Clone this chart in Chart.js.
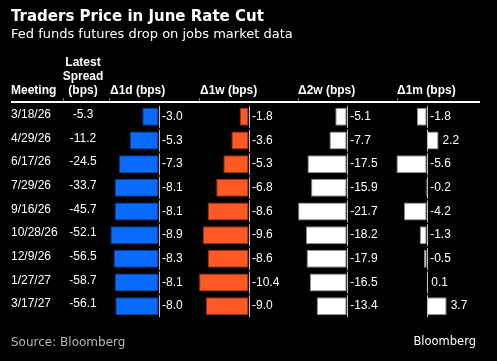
<!DOCTYPE html>
<html>
<head>
<meta charset="utf-8">
<script src="https://cdn.jsdelivr.net/npm/chart.js@4/dist/chart.umd.min.js"></script>
<style>
  html, body { margin: 0; padding: 0; background: #000; }
  #wrap { width: 497px; height: 361px; position: relative; }
</style>
</head>
<body>
<div id="wrap"><canvas id="myChart"></canvas></div>
<script>
const title = "Traders Price in June Rate Cut";
const subtitle = "Fed funds futures drop on jobs market data";
const source = "Source: Bloomberg";
const meetings = ["3/18/26", "4/29/26", "6/17/26", "7/29/26", "9/16/26", "10/28/26", "12/9/26", "1/27/27", "3/17/27"];
const latestSpread = [-5.3, -11.2, -24.5, -33.7, -45.7, -52.1, -56.5, -58.7, -56.1];
const chg1d = [-3.0, -5.3, -7.3, -8.1, -8.1, -8.9, -8.3, -8.1, -8.0];
const chg1w = [-1.8, -3.6, -5.3, -6.8, -8.6, -9.6, -8.6, -10.4, -9.0];
const chg2w = [-5.1, -7.7, -17.5, -15.9, -21.7, -18.2, -17.9, -16.5, -13.4];
const chg1m = [-1.8, 2.2, -5.6, -0.2, -4.2, -1.3, -0.5, 0.1, 3.7];
const colHeaders = ["Meeting", "Latest\nSpread\n(bps)", "Δ1d (bps)", "Δ1w (bps)", "Δ2w (bps)", "Δ1m (bps)"];

// layout of the bar columns: zero pixel and pixels per bp
const W = 497;
const barCols = [
  { id: "x1d", data: chg1d, zero: 158.5, ppu: 5.4, fill: "#0a6cff", border: "#0a3f99" },
  { id: "x1w", data: chg1w, zero: 248.5, ppu: 4.75, fill: "#ff5a26", border: "#9c3215" },
  { id: "x2w", data: chg2w, zero: 346.7, ppu: 2.24, fill: "#ffffff", border: "#8a8a8a" },
  { id: "x1m", data: chg1m, zero: 426.7, ppu: 5.4, fill: "#ffffff", border: "#8a8a8a" }
];

const scales = {
  y: { type: "category", display: false, offset: true, grid: { display: false } }
};
barCols.forEach(c => {
  scales[c.id] = {
    type: "linear", display: false, bounds: "data",
    min: -c.zero / c.ppu, max: (W - c.zero) / c.ppu
  };
});

const tablePlugin = {
  id: "table",
  afterDatasetsDraw(chart) {
    const ctx = chart.ctx;
    const y = chart.scales.y;
    ctx.save();
    // zero lines
    ctx.strokeStyle = "#bdbdbd";
    ctx.lineWidth = 1;
    barCols.forEach(c => {
      const x0 = Math.round(chart.scales[c.id].getPixelForValue(0)) + 0.5;
      meetings.forEach((m, i) => {
        const yc = y.getPixelForValue(i);
        ctx.beginPath();
        ctx.moveTo(x0, yc - 11);
        ctx.lineTo(x0, yc + 11);
        ctx.stroke();
      });
    });
    // value labels
    ctx.fillStyle = "#ffffff";
    ctx.font = "12px 'Liberation Sans', Arial, sans-serif";
    ctx.textBaseline = "middle";
    ctx.textAlign = "left";
    barCols.forEach((c, ci) => {
      const meta = chart.getDatasetMeta(ci);
      meta.data.forEach((bar, i) => {
        const v = c.data[i];
        const x0 = chart.scales[c.id].getPixelForValue(0);
        const x = v > 0 ? bar.x + 4 : x0 + 3.5;
        ctx.fillText(v.toFixed(1), x, bar.y);
      });
    });
    ctx.restore();
  },
  afterDraw(chart) {
    const ctx = chart.ctx;
    const y = chart.scales.y;
    ctx.save();
    ctx.fillStyle = "#ffffff";
    ctx.textBaseline = "alphabetic";
    ctx.textAlign = "left";
    ctx.font = "bold 15px 'DejaVu Sans', sans-serif";
    ctx.fillText(title, 11, 21);
    ctx.font = "13px 'DejaVu Sans', sans-serif";
    ctx.fillText(subtitle, 11, 38);

    // headers
    ctx.font = "bold 12px 'Liberation Sans', Arial, sans-serif";
    ctx.fillText(colHeaders[0], 11, 94);
    ctx.textAlign = "center";
    colHeaders[1].split("\n").forEach((line, k) => ctx.fillText(line, 83, 66 + k * 14));
    ctx.textAlign = "left";
    [110, 200, 298, 397].forEach((x, k) => ctx.fillText(colHeaders[k + 2], x, 94));

    // header rule
    ctx.fillStyle = "#ffffff";
    ctx.fillRect(11, 101, 469, 2);
    ctx.fillStyle = "#777777";
    [63, 109, 199, 298, 397].forEach(x => ctx.fillRect(x, 98, 1, 3));

    // rows
    ctx.fillStyle = "#ffffff";
    ctx.font = "12px 'Liberation Sans', Arial, sans-serif";
    ctx.textBaseline = "middle";
    meetings.forEach((m, i) => {
      const yc = y.getPixelForValue(i) - 2;
      ctx.textAlign = "left";
      ctx.fillText(m, 11, yc);
      ctx.textAlign = "center";
      ctx.fillText(latestSpread[i].toFixed(1), 83, yc);
    });

    // footer
    ctx.textBaseline = "alphabetic";
    ctx.textAlign = "left";
    ctx.fillStyle = "#b5b5b5";
    ctx.font = "12px 'DejaVu Sans', sans-serif";
    ctx.fillText(source, 11, 346);
    ctx.fillStyle = "#ffffff";
    ctx.textAlign = "right";
    ctx.font = "11.5px 'DejaVu Sans', sans-serif";
    ctx.fillText("Bloomberg", 476, 345);
    ctx.restore();
  }
};

const ctx = document.getElementById("myChart").getContext("2d");

const chart = new Chart(ctx, {
  type: "bar",
  data: {
    labels: meetings,
    datasets: barCols.map(c => ({
      label: c.id,
      data: c.data,
      xAxisID: c.id,
      yAxisID: "y",
      backgroundColor: c.fill,
      borderColor: c.border,
      borderWidth: 1,
      borderSkipped: false,
      grouped: false,
      barPercentage: 0.76,
      categoryPercentage: 1
    }))
  },
  options: {
    indexAxis: "y",
    responsive: true,
    maintainAspectRatio: false,
    animation: false,
    layout: { padding: { top: 105, bottom: 43, left: 0, right: 0 } },
    plugins: {
      legend: { display: false },
      tooltip: { enabled: false }
    },
    scales: scales
  },
  plugins: [tablePlugin]
});
</script>
</body>
</html>
